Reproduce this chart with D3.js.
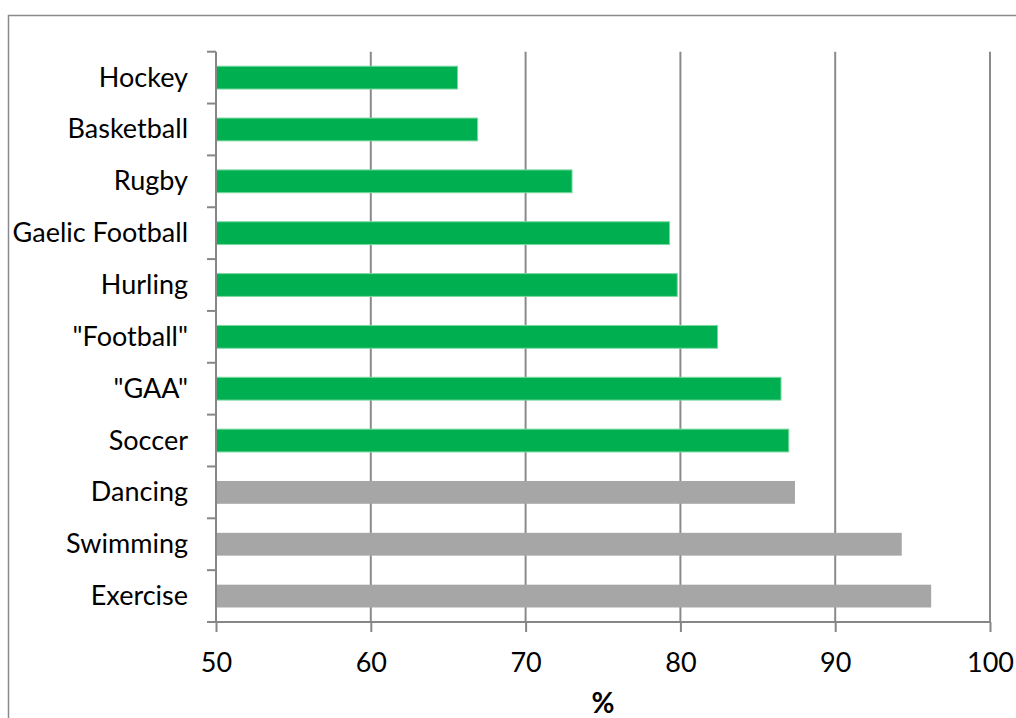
<!DOCTYPE html>
<html>
<head>
<meta charset="utf-8">
<script src="https://cdn.jsdelivr.net/npm/d3@7"></script>
<style>
  html, body { margin: 0; padding: 0; background: #ffffff; }
  svg { display: block; }
  text { font-family: Lato, "Open Sans", sans-serif; fill: #000; }
</style>
</head>
<body>
<svg id="chart" width="1016" height="718"></svg>
<script>
const categories = ["Hockey", "Basketball", "Rugby", "Gaelic Football", "Hurling", "\"Football\"", "\"GAA\"", "Soccer", "Dancing", "Swimming", "Exercise"];
const values = [65.6, 66.9, 73.0, 79.3, 79.8, 82.4, 86.5, 87.0, 87.4, 94.3, 96.2];
const groups = ["team", "team", "team", "team", "team", "team", "team", "team", "other", "other", "other"];
const xTicks = [50, 60, 70, 80, 90, 100];
const xTitle = "%";

const svg = d3.select("#chart");
const plotL = 216, plotR = 990, plotT = 51.7, plotB = 622;

const x = d3.scaleLinear().domain([50, 100]).range([plotL, plotR]);
const y = d3.scaleBand().domain(categories).range([plotT, plotB]).paddingInner(0.56).paddingOuter(0.28);
const edge = d3.scaleLinear().domain([0, categories.length]).range([plotT, plotB]);
const color = d3.scaleOrdinal().domain(["team", "other"]).range(["#00B050", "#A6A6A6"]);

// outer chart border
svg.append("rect").attr("x", 8.5).attr("y", 15.5).attr("width", 1100).attr("height", 800)
  .attr("fill", "none").attr("stroke", "#8a8a8a").attr("stroke-width", 1.5);

// gridlines
svg.append("g").selectAll("line").data(xTicks.slice(1)).join("line")
  .attr("x1", d => x(d)).attr("x2", d => x(d))
  .attr("y1", plotT).attr("y2", plotB)
  .attr("stroke", "#8a8a8a").attr("stroke-width", 2);

// bars
svg.append("g").selectAll("rect").data(categories).join("rect")
  .attr("x", x(50))
  .attr("y", d => y(d))
  .attr("width", (d, i) => x(values[i]) - x(50))
  .attr("height", y.bandwidth())
  .attr("fill", (d, i) => color(groups[i]))
  .attr("stroke", (d, i) => groups[i] === "team" ? "#7ad9a0" : "none")
  .attr("stroke-width", 1);

// x axis
const xAxis = d3.axisBottom(x).tickValues(xTicks).tickSize(10).tickPadding(21).tickFormat(d3.format("d"));
const gx = svg.append("g").attr("transform", `translate(0,${plotB})`).call(xAxis);
gx.select(".domain").attr("stroke", "#868686").attr("stroke-width", 2).attr("d", `M${plotL},0H${plotR}`);
gx.selectAll(".tick line").attr("stroke", "#868686").attr("stroke-width", 2);
gx.selectAll(".tick text").attr("font-size", 27).attr("font-family", "Lato, sans-serif").attr("fill", "#000");

// y axis
svg.append("line").attr("x1", plotL).attr("x2", plotL).attr("y1", plotT).attr("y2", plotB)
  .attr("stroke", "#868686").attr("stroke-width", 2);
svg.append("g").selectAll("line").data(d3.range(categories.length + 1)).join("line")
  .attr("x1", plotL - 9).attr("x2", plotL)
  .attr("y1", d => edge(d)).attr("y2", d => edge(d))
  .attr("stroke", "#868686").attr("stroke-width", 2);

svg.append("g").selectAll("text").data(categories).join("text")
  .attr("x", 188)
  .attr("y", d => y(d) + y.bandwidth() / 2 + 9)
  .attr("text-anchor", "end")
  .attr("font-size", 27)
  .text(d => d);

// x title
svg.append("text").attr("x", (plotL + plotR) / 2).attr("y", 713)
  .attr("text-anchor", "middle").attr("font-size", 28).attr("font-weight", "bold")
  .text(xTitle);
</script>
</body>
</html>
